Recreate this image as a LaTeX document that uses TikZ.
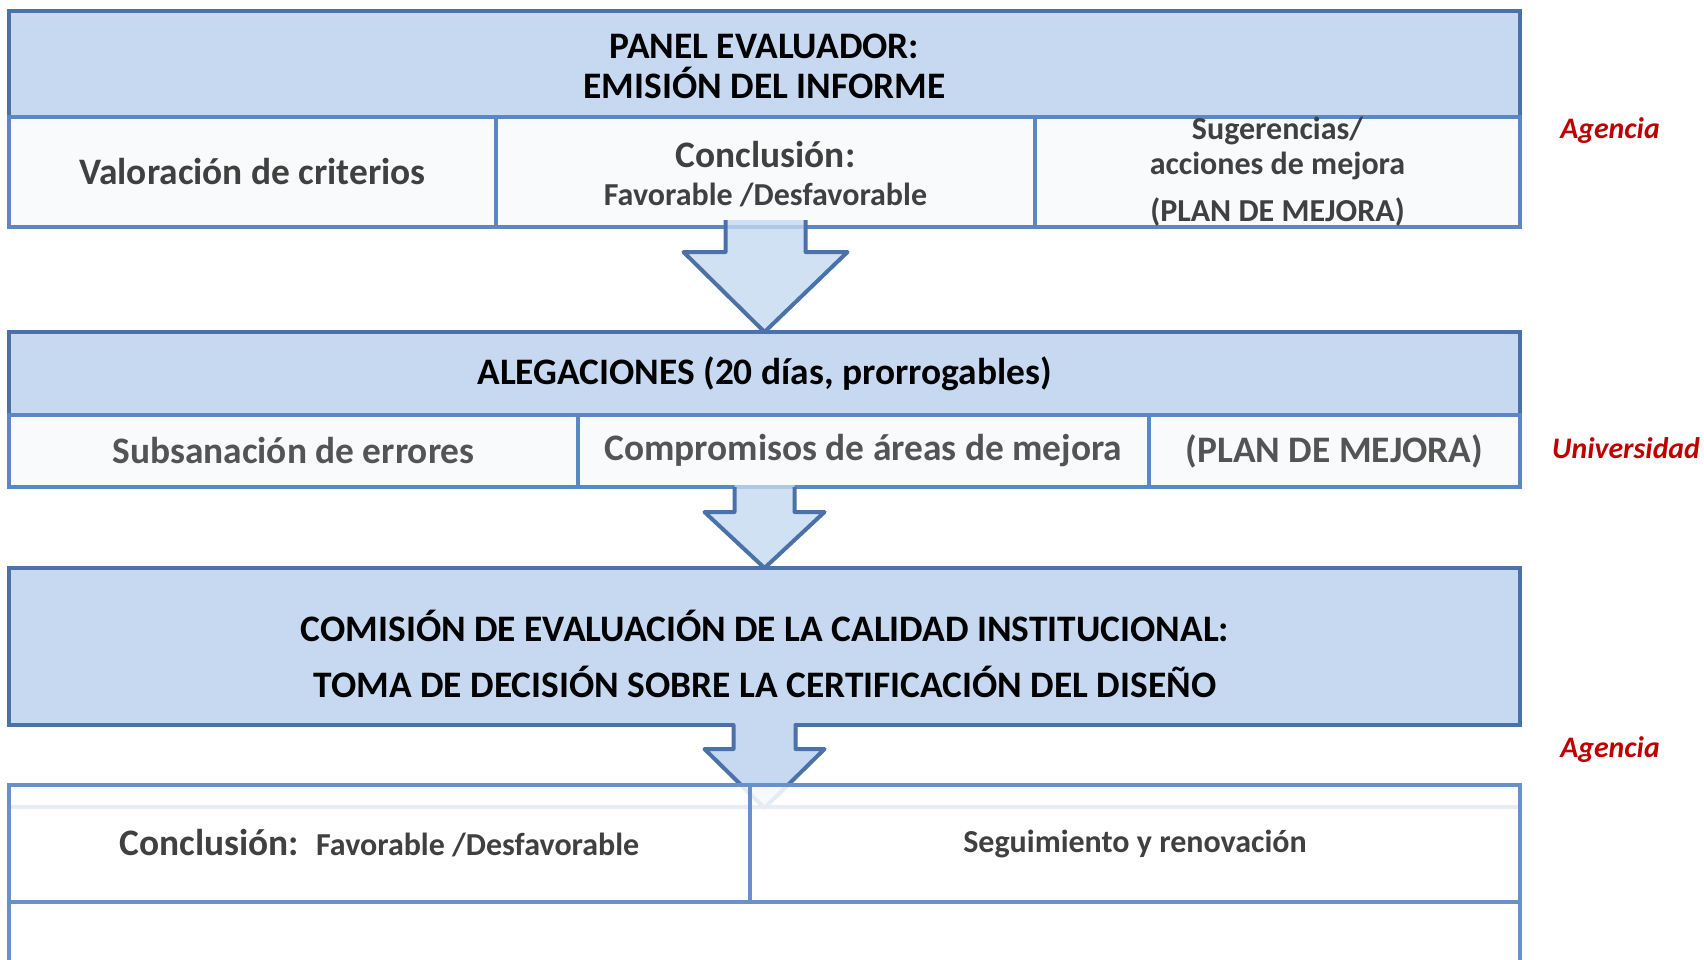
\documentclass[tikz,border=0pt]{standalone}
\usepackage{fontspec}
\setmainfont{Carlito}
\usetikzlibrary{calc}
\definecolor{hdrfill}{HTML}{C6D9F1}
\definecolor{dkblue}{HTML}{4A72A8}
\definecolor{mdblue}{HTML}{5B88C4}
\definecolor{ltblue}{HTML}{6592CB}
\definecolor{cellfill}{HTML}{F8FAFC}
\definecolor{txtgray}{HTML}{404040}
\definecolor{txtgray2}{HTML}{545454}
\definecolor{faintline}{HTML}{E8EDF3}
\definecolor{agred}{HTML}{C00000}
\begin{document}
\begin{tikzpicture}[x=1pt,y=-1pt,
  hdr/.style={draw=dkblue, line width=4pt, fill=hdrfill, inner sep=0pt, outer sep=0pt,
    anchor=north west, align=center, text=black},
  cell/.style={draw=mdblue, line width=4pt, fill=cellfill, inner sep=0pt, outer sep=0pt,
    anchor=north west, align=center, text=txtgray},
  lastcell/.style={draw=ltblue, line width=4pt, fill=white, fill opacity=0.86, text opacity=1,
    inner sep=0pt, outer sep=0pt, anchor=north west, align=center, text=txtgray},
  bigb/.style={font=\bfseries\fontsize{37.4}{40.5}\selectfont},
  smallb/.style={font=\bfseries\fontsize{32}{35}\selectfont},
  agent/.style={text=agred, font=\bfseries\itshape\fontsize{29.8}{36}\selectfont},
  arrowfill/.style={fill=hdrfill},
  arrowline/.style={draw=dkblue, line width=4pt, line join=round},
]
\useasboundingbox (0,0) rectangle (1704,960);
\clip (0,0) rectangle (1704,960);

% ---------- Box 1 ----------
\node[hdr, bigb, minimum width=1511pt, minimum height=106pt, text depth=0pt] (p1h) at (9,11)
  {\rule{0pt}{29pt}PANEL EVALUADOR:\\EMISIÓN DEL INFORME};
\node[cell, bigb, minimum width=487pt, minimum height=110pt] (p1a) at (9,117)
  {Valoración de criterios};
\node[cell, minimum width=539pt, minimum height=110pt,
  font=\bfseries\fontsize{37.4}{38}\selectfont] (p1b) at (496,117)
  {\rule{0pt}{31pt}Conclusión:\\{\fontsize{32}{38}\selectfont Favorable /Desfavorable}};
\node[cell, smallb, minimum width=485pt, minimum height=110pt] (p1c) at (1035,117)
  {Sugerencias/\\acciones de mejora\\[12pt](PLAN DE MEJORA)};

% ---------- Box 2 ----------
\node[hdr, bigb, minimum width=1511pt, minimum height=83pt] (p2h) at (9,332)
  {ALEGACIONES (20 días, prorrogables)};
\node[cell, bigb, text=txtgray2, minimum width=569pt, minimum height=72pt] (p2a) at (9,415)
  {Subsanación de errores};
\node[cell, bigb, text=txtgray2, minimum width=571pt, minimum height=72pt] (p2b) at (578,415)
  {Compromisos de áreas de mejora};
\node[cell, bigb, text=txtgray2, minimum width=371pt, minimum height=72pt] (p2c) at (1149,415)
  {(PLAN DE MEJORA)};

% ---------- Box 3 ----------
\node[hdr, minimum width=1511pt, minimum height=157pt] (p3) at (9,568) {};
\node[align=center, text=black, font=\bfseries\fontsize{37.4}{56.5}\selectfont, inner sep=0pt]
  (p3t) at (765,654)
  {COMISIÓN DE EVALUACIÓN DE LA CALIDAD INSTITUCIONAL:\\
   TOMA DE DECISIÓN SOBRE LA CERTIFICACIÓN DEL DISEÑO};

% ---------- Arrows ----------
\coordinate (a1) at (p1b.south);
\fill[arrowfill, fill opacity=0.8]
  ($(a1)+(-40,-7)$) -- ($(a1)+(-40,25)$) -- ($(a1)+(-82,25)$) -- (p2h.north)
  -- ($(a1)+(82,25)$) -- ($(a1)+(40,25)$) -- ($(a1)+(40,-7)$) -- cycle;
\draw[arrowline]
  ($(a1)+(-40,-7)$) -- ($(a1)+(-40,25)$) -- ($(a1)+(-82,25)$) -- (p2h.north)
  -- ($(a1)+(82,25)$) -- ($(a1)+(40,25)$) -- ($(a1)+(40,-7)$);

\coordinate (a2) at (p2h.center |- p2b.south);
\fill[arrowfill, fill opacity=0.8]
  ($(a2)+(-30,-2)$) -- ($(a2)+(-30,25)$) -- ($(a2)+(-60,25)$) -- (p3.north)
  -- ($(a2)+(60,25)$) -- ($(a2)+(30,25)$) -- ($(a2)+(30,-2)$) -- cycle;
\draw[arrowline]
  ($(a2)+(-30,0)$) -- ($(a2)+(-30,25)$) -- ($(a2)+(-60,25)$) -- (p3.north)
  -- ($(a2)+(60,25)$) -- ($(a2)+(30,25)$) -- ($(a2)+(30,0)$);

\coordinate (a3) at (p3.south);
\coordinate (t3) at ($(a3)+(0,83)$);
\fill[arrowfill]
  ($(a3)+(-31,-4)$) -- ($(a3)+(-31,24)$) -- ($(a3)+(-60,24)$) -- (t3)
  -- ($(a3)+(60,24)$) -- ($(a3)+(31,24)$) -- ($(a3)+(31,-4)$) -- cycle;
\draw[arrowline]
  ($(a3)+(-33,0)$) -- ($(a3)+(-31,0)$) -- ($(a3)+(-31,24)$) -- ($(a3)+(-60,24)$) -- (t3)
  -- ($(a3)+(60,24)$) -- ($(a3)+(31,24)$) -- ($(a3)+(31,0)$) -- ($(a3)+(33,0)$);

% ---------- Box 4 ----------
\node[lastcell, minimum width=1511pt, minimum height=140pt] (p4c) at (9,902) {};
\node[lastcell, minimum width=741pt, minimum height=117pt] (p4a) at (9,785)
  {\bfseries\fontsize{37.4}{40}\selectfont Conclusión:\ \ \fontsize{32}{40}\selectfont Favorable /Desfavorable};
\node[lastcell, smallb, minimum width=770pt, minimum height=117pt] (p4b) at (750,785)
  {Seguimiento y renovación};
\draw[faintline, line width=4pt] ($(p4a.north west)+(2,22)$) -- ($(p4b.north east)+(-2,22)$);
\draw[ltblue, line width=4pt] (p4a.north east) -- (p4a.south east);
\draw[faintline, line width=2pt] ($(p4c.west)+(2,56)$) -- ($(p4c.east)+(-2,56)$);

% ---------- Side labels ----------
\node[agent] (ag1) at (1610,131) {Agencia};
\node[agent] (un1) at (1626,448) {Universidad};
\node[agent] (ag2) at (1610,750) {Agencia};
\end{tikzpicture}
\end{document}
